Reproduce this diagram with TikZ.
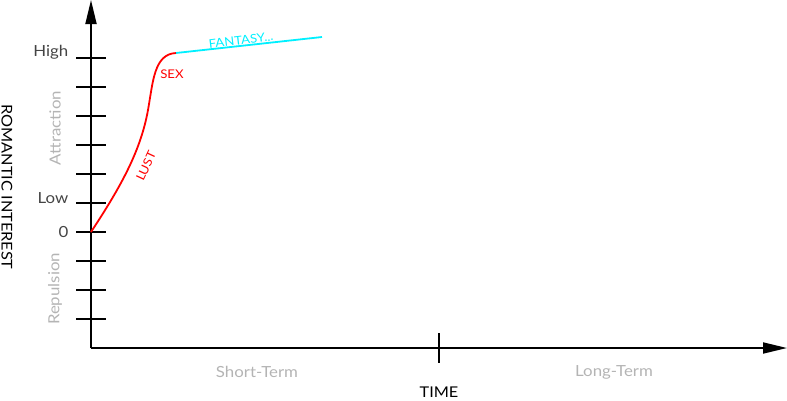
\documentclass[tikz,border=0pt]{standalone}
\usepackage{fontspec}
\setmainfont{Lato}[FakeStretch=1.1]
\usetikzlibrary{arrows.meta}
\definecolor{lblgray}{HTML}{B4B4B4}
\definecolor{darklbl}{HTML}{444444}
\definecolor{lustred}{HTML}{FF0000}
\definecolor{fantcyan}{HTML}{00F0FF}
\tikzset{
  axis/.style={line width=1.8pt, black, -{Triangle[length=24pt,width=11pt]}},
  tickline/.style={line width=1.6pt, black},
  levellbl/.style={text=darklbl, font=\fontsize{15.3}{15.3}\selectfont, anchor=east, inner sep=0pt},
  zonelbl/.style={text=lblgray, font=\fontsize{15.3}{15.3}\selectfont, inner sep=0pt},
  titlelbl/.style={text=black, font=\fontsize{14.8}{14.8}\selectfont, inner sep=0pt},
  curvelbl/.style={font=\fontsize{12}{12}\selectfont, inner sep=0pt},
}
\begin{document}
\begin{tikzpicture}[x=1pt,y=-1pt]
\useasboundingbox (0,0) rectangle (787,400);
\coordinate (O) at (91,348);
\coordinate (ytop) at (91,0);
\coordinate (xend) at (787,348);
\draw[axis] (O) -- (ytop);
\draw[axis] (O) -- (xend);
% y ticks
\foreach \k in {0,...,9}{
  \coordinate (tl\k) at (76,58+29*\k);
  \coordinate (tr\k) at (106,58+29*\k);
  \draw[tickline] (tl\k) -- (tr\k);
}
% x mid tick
\coordinate (mt1) at (439,333);
\coordinate (mt2) at (439,363);
\draw[line width=1.4pt] (mt1) -- (mt2);
% level labels
\node[levellbl] (high) at (68.5,52) {High};
\node[levellbl] (low) at (68.5,198) {Low};
\node[levellbl] (zero) at (68.5,232) {0};
\node[zonelbl, rotate=90] (attr) at (55,128) {Attraction};
\node[zonelbl, rotate=90] (rep) at (55,289) {Repulsion};
\node[titlelbl, rotate=-90] (rom) at (7,187) {ROMANTIC INTEREST};
\node[zonelbl] (short) at (257,372) {Short-Term};
\node[zonelbl] (long) at (614,372) {Long-Term};
\node[titlelbl] (time) at (439,392) {TIME};
% curve
\coordinate (c0) at (91,232);
\coordinate (c1) at (148,110);
\coordinate (c2) at (176,53);
\coordinate (c3) at (322,37);
\draw[lustred, line width=1.8pt] (c0) .. controls (122,185) and (140.8,150) .. (c1)
  .. controls (153,82) and (154,54) .. (c2);
\draw[fantcyan, line width=1.8pt] (c2) -- (c3);
\node[curvelbl, text=lustred] (sex) at (172,74) {SEX};
\node[curvelbl, text=lustred, rotate=65] (lust) at (146,166) {LUST};
\node[curvelbl, text=fantcyan, rotate=7] (fant) at (241,40) {FANTASY...};
\end{tikzpicture}
\end{document}
